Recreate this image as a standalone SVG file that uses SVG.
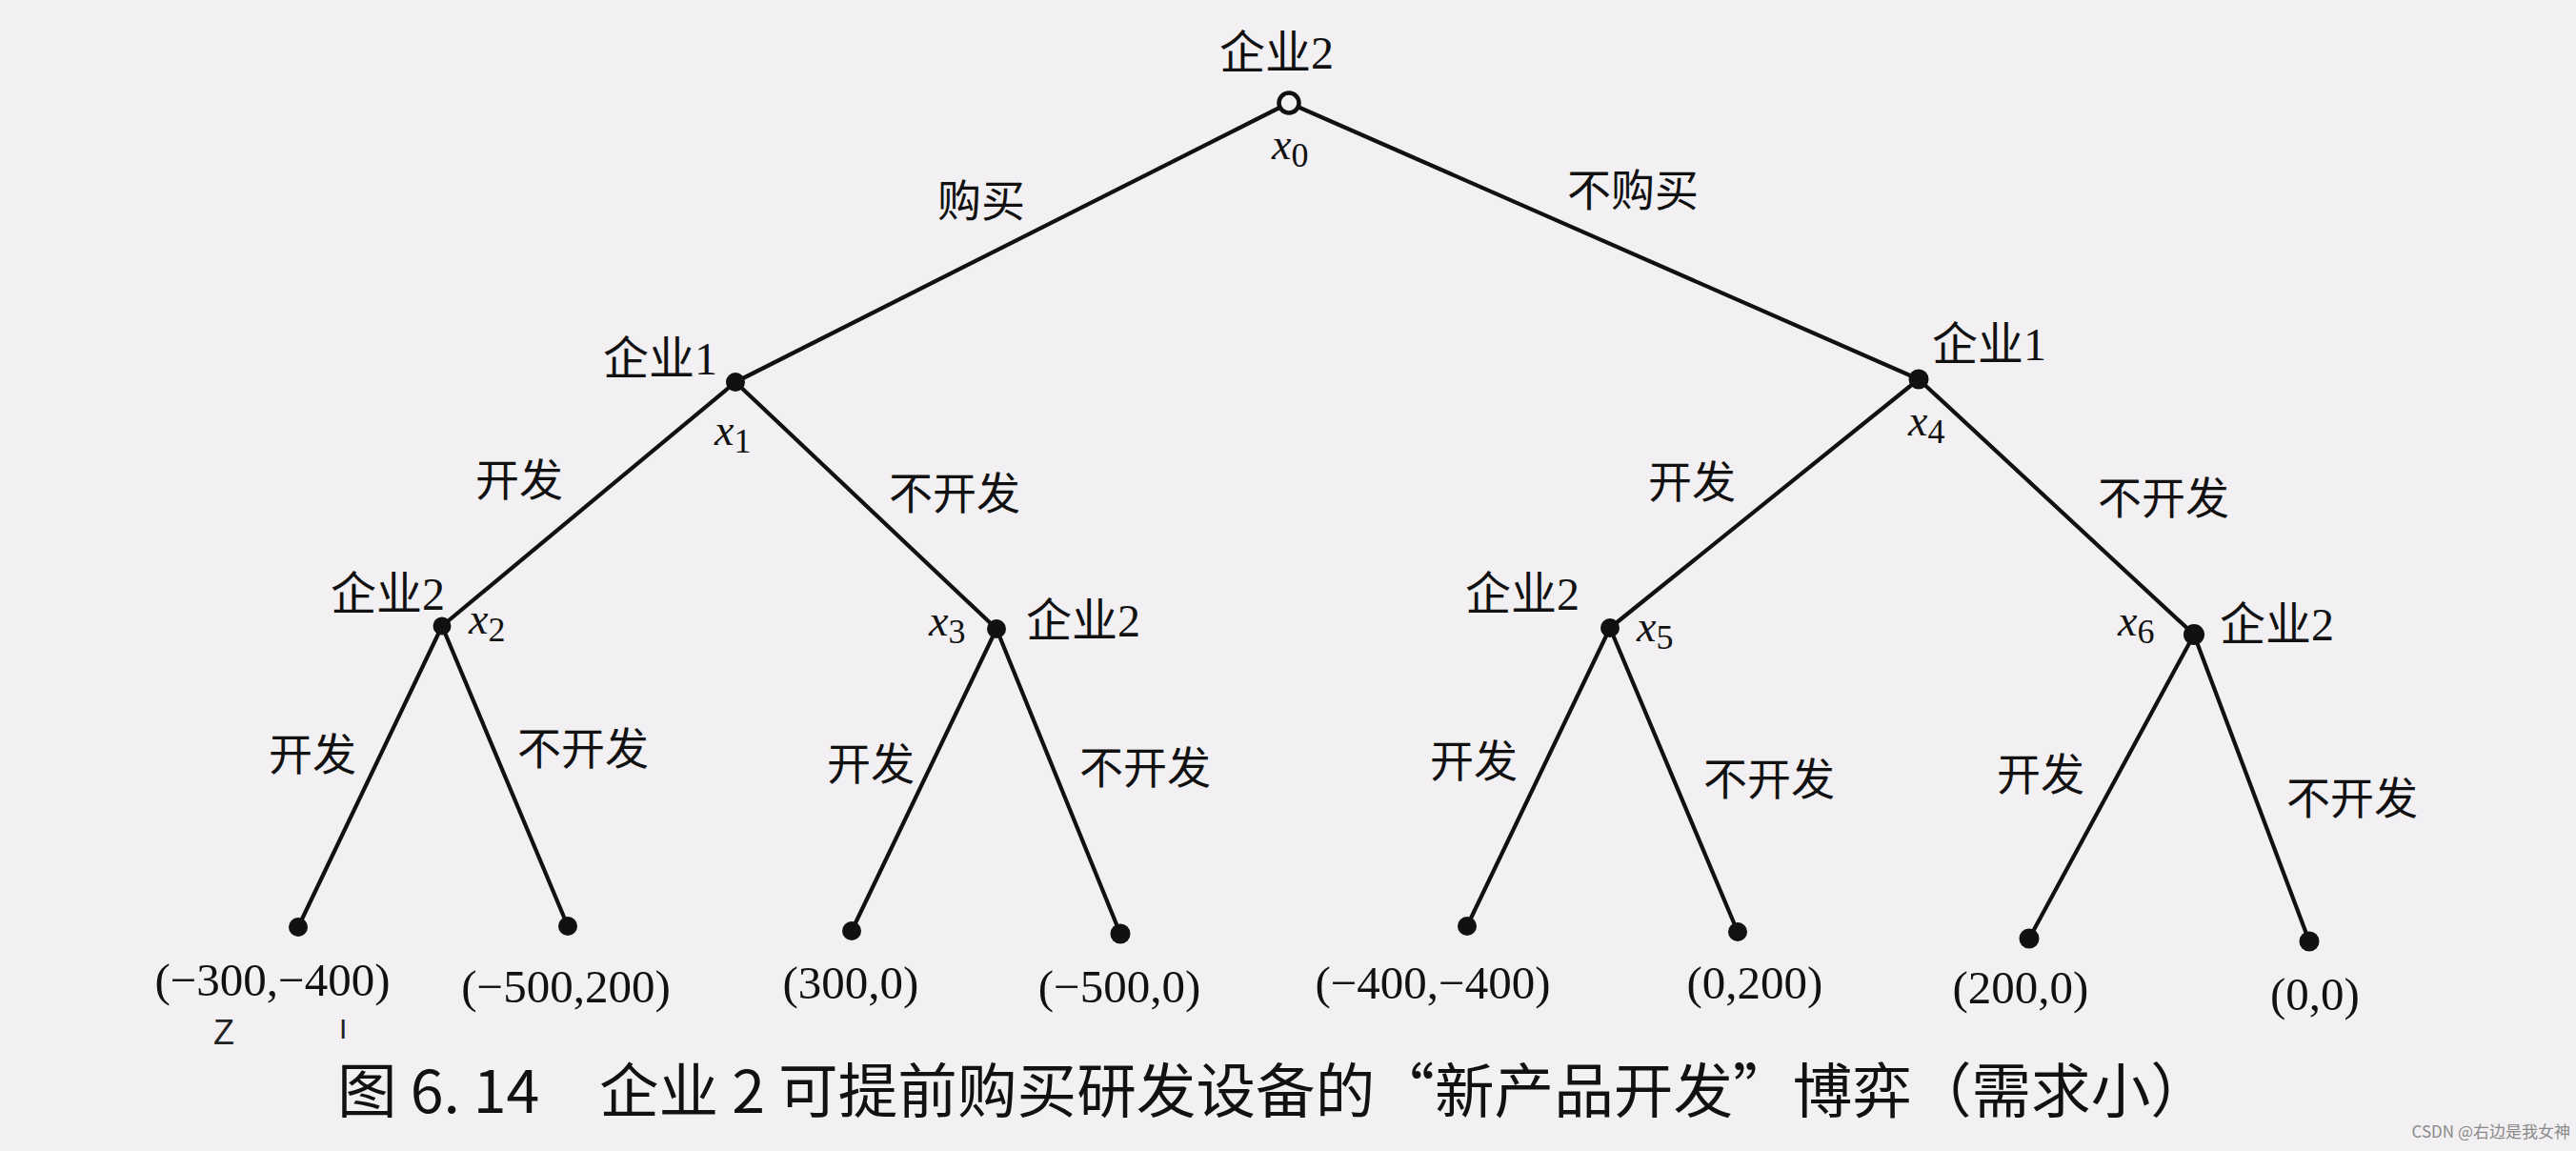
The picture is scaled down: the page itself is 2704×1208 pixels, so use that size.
<svg xmlns="http://www.w3.org/2000/svg" width="2704" height="1208" viewBox="0 0 2704 1208">
<style>
.edge{stroke:#111;stroke-width:4.2;fill:none;stroke-linecap:round}
.dot{fill:#111}
.open{fill:#f2f0f2;stroke:#111;stroke-width:4.5}
.lab{font-family:"Liberation Serif","Noto Sans CJK SC",serif;font-size:48px;fill:#111}
.br{font-family:"Liberation Serif","Noto Sans CJK SC",serif;font-size:46px;fill:#111;text-anchor:middle}
.var{font-family:"Liberation Serif",serif;font-size:46px;fill:#111}
.var .x{font-style:italic}
.var .s{font-size:36px}
.pay{font-family:"Liberation Serif",serif;font-size:49px;fill:#111;text-anchor:middle}
.cap{font-family:"Noto Sans CJK SC",sans-serif;font-size:62px;fill:#111}
</style>
<rect width="2704" height="1208" fill="#f2f0f2"/>
<g id="connectors">
<line class="edge" x1="1353" y1="108" x2="772" y2="401"/>
<line class="edge" x1="1353" y1="108" x2="2014" y2="398"/>
<line class="edge" x1="772" y1="401" x2="464" y2="657"/>
<line class="edge" x1="772" y1="401" x2="1046" y2="660"/>
<line class="edge" x1="2014" y1="398" x2="1690" y2="659"/>
<line class="edge" x1="2014" y1="398" x2="2303" y2="666"/>
<line class="edge" x1="464" y1="657" x2="313" y2="973"/>
<line class="edge" x1="464" y1="657" x2="596" y2="972"/>
<line class="edge" x1="1046" y1="660" x2="894" y2="977"/>
<line class="edge" x1="1046" y1="660" x2="1176" y2="980"/>
<line class="edge" x1="1690" y1="659" x2="1540" y2="972"/>
<line class="edge" x1="1690" y1="659" x2="1824" y2="978"/>
<line class="edge" x1="2303" y1="666" x2="2130" y2="985"/>
<line class="edge" x1="2303" y1="666" x2="2424" y2="988"/>
<text class="br" x="1030" y="227">购买</text>
<text class="br" x="1714" y="216">不购买</text>
<text class="br" x="545" y="520">开发</text>
<text class="br" x="1002" y="534">不开发</text>
<text class="br" x="1776" y="522">开发</text>
<text class="br" x="2271" y="539">不开发</text>
<text class="br" x="328" y="808">开发</text>
<text class="br" x="612" y="802">不开发</text>
<text class="br" x="914" y="818">开发</text>
<text class="br" x="1202" y="822">不开发</text>
<text class="br" x="1547" y="815">开发</text>
<text class="br" x="1857" y="834">不开发</text>
<text class="br" x="2142" y="829">开发</text>
<text class="br" x="2469" y="854">不开发</text>
</g>
<g id="x0">
<circle class="open" cx="1353" cy="108" r="10.5"/>
<text class="lab" x="1280" y="72">企业2</text>
<text class="var" x="1335" y="167"><tspan class="x">x</tspan><tspan class="s" dy="8">0</tspan></text>
</g>
<g id="x1">
<circle class="dot" cx="772" cy="401" r="10"/>
<text class="lab" x="753" y="393" text-anchor="end">企业1</text>
<text class="var" x="750" y="467"><tspan class="x">x</tspan><tspan class="s" dy="8">1</tspan></text>
</g>
<g id="x4">
<circle class="dot" cx="2014" cy="398" r="10.5"/>
<text class="lab" x="2028" y="378">企业1</text>
<text class="var" x="2003" y="457"><tspan class="x">x</tspan><tspan class="s" dy="8">4</tspan></text>
</g>
<g id="x2">
<circle class="dot" cx="464" cy="657" r="9.5"/>
<text class="lab" x="467" y="640" text-anchor="end">企业2</text>
<text class="var" x="492" y="665"><tspan class="x">x</tspan><tspan class="s" dy="8">2</tspan></text>
</g>
<g id="x3">
<circle class="dot" cx="1046" cy="660" r="10"/>
<text class="lab" x="1077" y="668">企业2</text>
<text class="var" x="975" y="667"><tspan class="x">x</tspan><tspan class="s" dy="8">3</tspan></text>
</g>
<g id="x5">
<circle class="dot" cx="1690" cy="659" r="10"/>
<text class="lab" x="1538" y="640">企业2</text>
<text class="var" x="1718" y="673"><tspan class="x">x</tspan><tspan class="s" dy="8">5</tspan></text>
</g>
<g id="x6">
<circle class="dot" cx="2303" cy="666" r="11"/>
<text class="lab" x="2330" y="672">企业2</text>
<text class="var" x="2223" y="667"><tspan class="x">x</tspan><tspan class="s" dy="8">6</tspan></text>
</g>
<g id="leaf1"><circle class="dot" cx="313" cy="973" r="10"/><text class="pay" x="286" y="1045">(−300,−400)</text></g>
<g id="leaf2"><circle class="dot" cx="596" cy="972" r="10"/><text class="pay" x="594" y="1052">(−500,200)</text></g>
<g id="leaf3"><circle class="dot" cx="894" cy="977" r="10"/><text class="pay" x="893" y="1048">(300,0)</text></g>
<g id="leaf4"><circle class="dot" cx="1176" cy="980" r="10.5"/><text class="pay" x="1175" y="1052">(−500,0)</text></g>
<g id="leaf5"><circle class="dot" cx="1540" cy="972" r="10"/><text class="pay" x="1504" y="1048">(−400,−400)</text></g>
<g id="leaf6"><circle class="dot" cx="1824" cy="978" r="10"/><text class="pay" x="1842" y="1048">(0,200)</text></g>
<g id="leaf7"><circle class="dot" cx="2130" cy="985" r="10.5"/><text class="pay" x="2121" y="1053">(200,0)</text></g>
<g id="leaf8"><circle class="dot" cx="2424" cy="988" r="10.5"/><text class="pay" x="2430" y="1060">(0,0)</text></g>
<text x="224" y="1096" font-family="Liberation Sans,sans-serif" font-size="36" fill="#222">Z</text>
<text x="356" y="1090" font-family="Liberation Sans,sans-serif" font-size="30" fill="#222">I</text>
<text class="cap" x="354" y="1168" textLength="1966" lengthAdjust="spacingAndGlyphs">图 6. 14　企业 2 可提前购买研发设备的“新产品开发”博弈（需求小）</text>
<text x="2698" y="1194" text-anchor="end" font-family="Noto Sans CJK SC,sans-serif" font-size="17" fill="#8a8a8a">CSDN @右边是我女神</text>
</svg>
